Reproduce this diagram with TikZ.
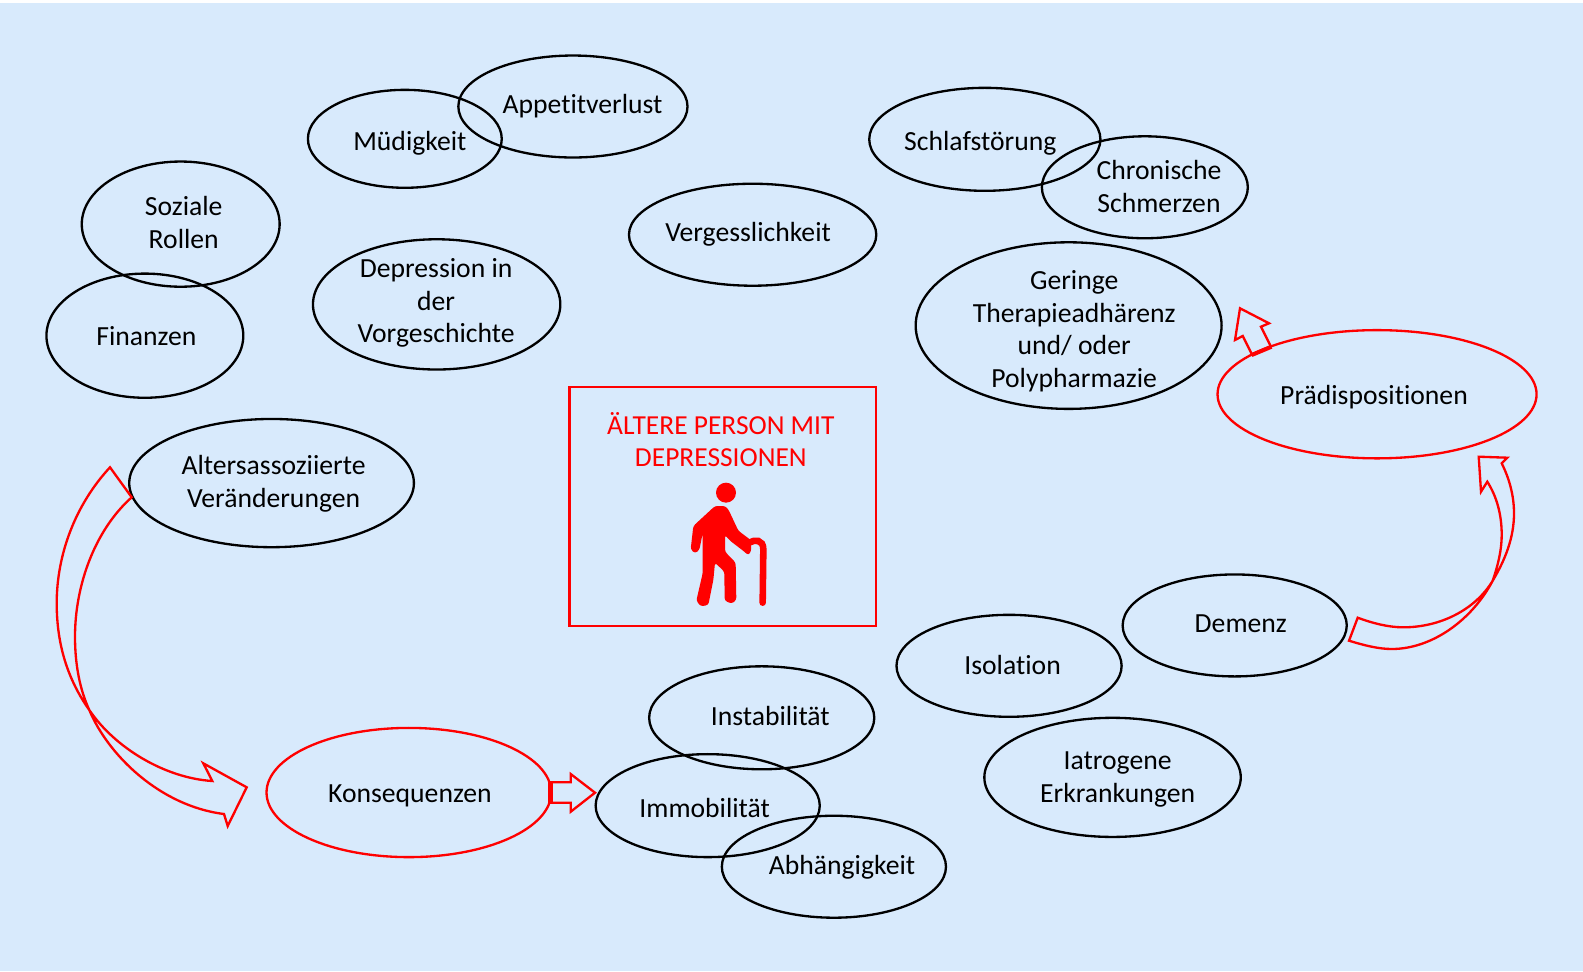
\documentclass[tikz,border=0pt]{standalone}
\usepackage{fontspec}
\setmainfont[Ligatures=NoCommon]{Carlito}
\usetikzlibrary{shapes.geometric}
\definecolor{bgblue}{RGB}{216,234,252}
\definecolor{redline}{RGB}{255,0,0}
\tikzset{
  bub/.style={draw=black,line width=2.3pt,ellipse,inner sep=0pt},
  redbub/.style={draw=redline,line width=2.3pt,ellipse,inner sep=0pt},
  lbl/.style={text=black,font=\fontsize{27.4}{32.5}\selectfont,align=center,inner sep=0pt},
  redlbl/.style={text=redline,font=\fontsize{27.2}{32}\selectfont,align=center,inner sep=0pt},
  blockarrow/.style={draw=redline,line width=2.3pt,line join=miter},
}
\newcommand{\bubble}[7]{%
  \node[#1,minimum width=#4pt,minimum height=#5pt] (#2) at (#3) {};
  \node[lbl] (#2t) at (#6) {#7};}
\begin{document}
\begin{tikzpicture}[x=1pt,y=-1pt]
\useasboundingbox (0,0) rectangle (1568,961.8);
\fill[white] (0,0) rectangle (1568,961.8);
\fill[bgblue] (0,3) rectangle (1568,961.8);
\bubble{bub}{soz}{179,222}{196}{124}{182,220.5}{Soziale\\Rollen}
\bubble{bub}{fin}{143.5,332.5}{195}{123}{145,333}{Finanzen}
\bubble{bub}{mue}{401,137.5}{192}{97}{406,142}{Müdigkeit}
\bubble{bub}{app}{567.5,105.5}{227}{101}{577,105}{Appetitverlust}
\bubble{bub}{dep}{432.5,301.5}{245}{129}{432,300}{Depression in\\der\\Vorgeschichte}
\bubble{bub}{ver}{745.5,232.5}{245}{101}{741,232}{Vergesslichkeit}
\bubble{bub}{sch}{975.5,138}{229}{102}{971,142}{Schlafstörung}
\bubble{bub}{chr}{1134,185.5}{204}{101}{1148,185}{Chronische\\Schmerzen}
\bubble{bub}{ger}{1058.5,322.5}{303}{165}{1064,328}{Geringe\\Therapieadhärenz\\und/ oder\\Polypharmazie}
\bubble{redbub}{pra}{1364,390.5}{316}{127}{1361,393.5}{Prädispositionen}
\bubble{bub}{alt}{269,478.5}{282}{127}{271,479}{Altersassoziierte\\Veränderungen}
\bubble{bub}{dem}{1223,619.5}{222}{101}{1229,618}{Demenz}
\bubble{bub}{iso}{999.5,659.5}{223}{101}{1003,659}{Isolation}
\bubble{bub}{iat}{1102,770}{254}{118}{1107,772.5}{Iatrogene\\Erkrankungen}
\bubble{redbub}{kon}{405,785}{282}{128}{406,788.5}{Konsequenzen}
\bubble{bub}{ins}{754.5,711}{223}{102}{763,709.5}{Instabilität}
\bubble{bub}{imm}{701,798}{222}{102}{698,800}{Immobilität}
\bubble{bub}{abh}{826,858.5}{222}{101}{834,859}{Abhängigkeit}
\node[draw=redline,line width=2.3pt,minimum width=304pt,minimum height=236.5pt,inner sep=0pt,outer sep=0pt] (box) at (716,501.5) {};
\node[redlbl] (title) at (714,435.5) {ÄLTERE PERSON MIT\\DEPRESSIONEN};
\begin{scope}[scale=0.99052]
  % arrows
  \draw[blockarrow] (110,467.3) .. controls (75,505) and (56.7,555) .. (56.7,603.3)
     .. controls (56.7,645) and (68,680) .. (89.3,710)
     .. controls (115,748) and (165,778) .. (212.3,781)
     -- (203.3,763.3) -- (246.7,787.3) -- (227.7,826) -- (224,814)
     .. controls (160,806) and (108,755) .. (89.3,710)
     .. controls (80,690) and (75,665) .. (75,636.7)
     .. controls (75,585) and (95,530) .. (131.7,497.3) -- cycle;
  \draw[blockarrow] (1357.7,617.7) .. controls (1372,623) and (1388,627.3) .. (1403.3,627.3)
     .. controls (1440,627.3) and (1475,610) .. (1492.7,580.7)
     .. controls (1498,565) and (1501.7,550) .. (1501.7,535)
     .. controls (1501.7,515) and (1497,497) .. (1487.3,481.7)
     -- (1481,491.7) -- (1478.7,456.7) -- (1507.3,457.7) -- (1501.7,463.3)
     .. controls (1509,478) and (1514,495) .. (1514,513.3)
     .. controls (1514,538) and (1505,560) .. (1492.7,580.7)
     .. controls (1472,620) and (1432,649) .. (1391.7,649)
     .. controls (1378,649) and (1363,645) .. (1349,640.7) -- cycle;
  \draw[blockarrow] (1251.7,354) -- (1242.7,336) -- (1235,340) -- (1240,308.3) -- (1269,323.3) -- (1261,326.7) -- (1271,346.7);
  \draw[draw=redline,line width=4pt] (1251.7,355) -- (1271.5,346.7);
  \draw[blockarrow] (550,782.3) -- (570.7,782.3) -- (570.7,774) -- (595,792.7) -- (570.7,811.7) -- (570.7,802.7) -- (550,802.7);
  \draw[draw=redline,line width=4pt] (550.5,781.5) -- (550.5,803.5);
  % person
  \begin{scope}[shift={(560,380)},scale=1/3]
    \fill[redline] (498,338) circle (30);
    \fill[redline,rounded corners=2.5pt] (465,378) -- (495,378) -- (505,388) -- (535,452) -- (572,480) -- (574,512) -- (565,526) -- (553,515) -- (510,482) -- (495,465) -- (495,515) -- (527,548) -- (529,660) -- (515,671) -- (494,662) -- (493,575) -- (465,548) -- (460,600) -- (445,675) -- (422,679) -- (409,662) -- (428,580) -- (428,460) -- (418,510) -- (405,520) -- (392,508) -- (400,438) -- cycle;
    \draw[redline,line width=6.5pt,line cap=round] (567,488) .. controls (585,478) and (610,478) .. (610,508) -- (608,668);
  \end{scope}
\end{scope}
\end{tikzpicture}
\end{document}
